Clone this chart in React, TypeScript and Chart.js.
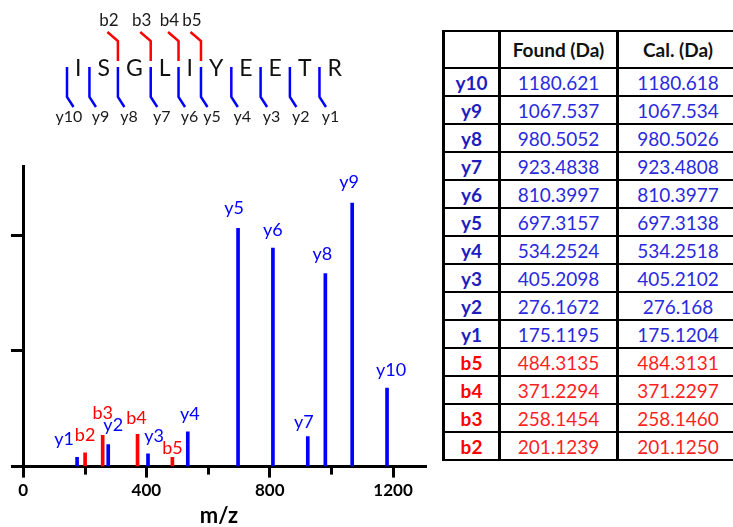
import React, { useEffect, useRef } from "react";
import { Chart, registerables } from "chart.js";

Chart.register(...registerables);

const FONT = "Lato, 'Open Sans', sans-serif";

// ---- Peptide sequence diagram ----
const SEQUENCE = ["I", "S", "G", "L", "I", "Y", "E", "E", "T", "R"];
const SEQ_Y_LABELS = ["y10", "y9", "y8", "y7", "y6", "y5", "y4", "y3", "y2", "y1"];
const SEQ_B_LABELS = ["", "", "b2", "b3", "b4", "b5", "", "", "", ""];

// ---- Spectrum peaks ----
const Y_IONS = ["y1", "y2", "y3", "y4", "y5", "y6", "y7", "y8", "y9", "y10"];
const Y_MZ = [175.1195, 276.1672, 405.2098, 534.2524, 697.3157, 810.3997, 923.4838, 980.5052, 1067.537, 1180.621];
const Y_INT = [8, 19, 11, 30, 206, 189, 26, 167, 228, 68];

const B_IONS = ["b2", "b3", "b4", "b5"];
const B_MZ = [201.1239, 258.1454, 371.2294, 484.3135];
const B_INT = [12, 27, 28, 8];

// ---- Axes ----
const X_TICKS = [0, 200, 400, 600, 800, 1000, 1200];
const X_LABELED = [0, 400, 800, 1200];
const Y_TICKS = [0, 100, 200];
const X_MIN = -36;
const X_MAX = 1307;
const Y_MAX = 260;

// ---- Table ----
const TABLE_IONS = ["y10", "y9", "y8", "y7", "y6", "y5", "y4", "y3", "y2", "y1", "b5", "b4", "b3", "b2"];
const TABLE_FOUND = ["1180.621", "1067.537", "980.5052", "923.4838", "810.3997", "697.3157", "534.2524", "405.2098", "276.1672", "175.1195", "484.3135", "371.2294", "258.1454", "201.1239"];
const TABLE_CAL = ["1180.618", "1067.534", "980.5026", "923.4808", "810.3977", "697.3138", "534.2518", "405.2102", "276.168", "175.1204", "484.3131", "371.2297", "258.1460", "201.1250"];
const TABLE_HEADERS = ["", "Found (Da)", "Cal. (Da)"];

const BLUE = "#0000ff";
const RED = "#ff0000";

// label nudges [dx, dy] to avoid overlaps (style only)
const NUDGE: Record<string, [number, number]> = {
  y1: [-13, 0],
  y2: [5, -2],
  y3: [6, 0],
  y4: [2, 0],
  y5: [-4, -2],
  y7: [-4, 3],
  y8: [-3, -2],
  y9: [-3, -3],
  y10: [4, 0],
  b3: [0, -4],
  b4: [-1, 2],
  b5: [0, 9],
};

const peakLabels = {
  id: "peakLabels",
  afterDatasetsDraw(chart: any) {
    const ctx = chart.ctx;
    ctx.save();
    ctx.font = `18px ${FONT}`;
    ctx.textAlign = "center";
    ctx.textBaseline = "alphabetic";
    chart.data.datasets.forEach((ds: any, di: number) => {
      const meta = chart.getDatasetMeta(di);
      const names = di === 0 ? Y_IONS : B_IONS;
      ctx.fillStyle = ds.backgroundColor;
      meta.data.forEach((el: any, i: number) => {
        const [dx, dy] = NUDGE[names[i]] || [0, 0];
        ctx.fillText(names[i], el.x + dx, el.y - 12 + dy);
      });
    });
    ctx.restore();
  },
};

const minorTicks = {
  id: "minorTicks",
  afterDraw(chart: any) {
    const ctx = chart.ctx;
    const xs = chart.scales.x;
    const bottom = chart.chartArea.bottom;
    ctx.save();
    ctx.strokeStyle = "#000";
    ctx.lineWidth = 3;
    X_TICKS.filter((v) => !X_LABELED.includes(v)).forEach((v) => {
      const px = Math.round(xs.getPixelForValue(v)) + 0.5;
      ctx.beginPath();
      ctx.moveTo(px, bottom);
      ctx.lineTo(px, bottom + 8);
      ctx.stroke();
    });
    ctx.restore();
  },
};

const peptide = {
  id: "peptide",
  afterDraw(chart: any) {
    const ctx = chart.ctx;
    ctx.save();
    ctx.font = `23px ${FONT}`;
    const PAD = 8;
    let x = 67;
    const markers: number[] = [];
    const centers: number[] = [];
    SEQUENCE.forEach((s) => {
      const w = ctx.measureText(s).width;
      markers.push(x);
      centers.push(x + PAD + w / 2);
      x += PAD * 2 + w;
    });
    // letters
    ctx.fillStyle = "#111";
    ctx.textAlign = "center";
    ctx.textBaseline = "alphabetic";
    SEQUENCE.forEach((s, i) => ctx.fillText(s, centers[i], 76));

    ctx.lineWidth = 2.5;
    ctx.lineJoin = "miter";
    // y-ion markers
    ctx.strokeStyle = BLUE;
    markers.forEach((m) => {
      ctx.beginPath();
      ctx.moveTo(m, 67);
      ctx.lineTo(m, 97);
      ctx.lineTo(m + 6.5, 107);
      ctx.stroke();
    });
    // b-ion markers
    ctx.strokeStyle = RED;
    markers.forEach((m, i) => {
      if (!SEQ_B_LABELS[i]) return;
      ctx.beginPath();
      ctx.moveTo(m - 10.5, 32);
      ctx.lineTo(m, 41);
      ctx.lineTo(m, 61);
      ctx.stroke();
    });
    // labels
    ctx.fillStyle = "#1a1a1a";
    ctx.textBaseline = "middle";
    ctx.font = `16px ${FONT}`;
    markers.forEach((m, i) => {
      ctx.fillText(SEQ_Y_LABELS[i], m + (i === 0 ? 2 : 11), 117);
    });
    ctx.font = `17px ${FONT}`;
    markers.forEach((m, i) => {
      if (SEQ_B_LABELS[i]) ctx.fillText(SEQ_B_LABELS[i], m - 9, 21);
    });
    ctx.restore();
  },
};

export default function App() {
  const ref = useRef<HTMLCanvasElement>(null);

  useEffect(() => {
    const canvas = ref.current;
    if (!canvas) return;
    const chart = new Chart(canvas, {
      type: "bar",
      data: {
        datasets: [
          {
            label: "y ions",
            data: Y_MZ.map((x, i) => ({ x, y: Y_INT[i] })),
            backgroundColor: BLUE,
            barThickness: 3,
            grouped: false,
          } as any,
          {
            label: "b ions",
            data: B_MZ.map((x, i) => ({ x, y: B_INT[i] })),
            backgroundColor: RED,
            barThickness: 3,
            grouped: false,
          } as any,
        ],
      },
      options: {
        animation: false,
        responsive: false,
        devicePixelRatio: 1,
        layout: { padding: { left: 12, right: 14, top: 166, bottom: 0 } },
        plugins: { legend: { display: false }, tooltip: { enabled: false } },
        scales: {
          x: {
            type: "linear",
            offset: false,
            min: X_MIN,
            max: X_MAX,
            position: "bottom",
            afterBuildTicks: (s: any) => {
              s.ticks = X_TICKS.map((value) => ({ value }));
            },
            grid: {
              offset: false,
              drawOnChartArea: false,
              drawTicks: true,
              tickLength: 11,
              tickWidth: 3,
              tickColor: (c: any) =>
                c.tick && X_LABELED.includes(c.tick.value) ? "#000" : "rgba(0,0,0,0)",
            },
            border: { display: true, color: "#000", width: 3 },
            ticks: {
              callback: (v: any) => (X_LABELED.includes(Number(v)) ? String(v) : ""),
              color: "#000",
              font: { family: FONT, size: 17, weight: "bold" },
              padding: 3,
              maxRotation: 0,
              autoSkip: false,
            },
            title: {
              display: true,
              text: "m/z",
              color: "#000",
              font: { family: FONT, size: 22, weight: "bold", lineHeight: 1 },
              padding: { top: 1, bottom: 0 },
            },
          },
          y: {
            type: "linear",
            min: 0,
            max: Y_MAX,
            position: { x: 0 } as any,
            afterBuildTicks: (s: any) => {
              s.ticks = Y_TICKS.map((value) => ({ value }));
            },
            grid: {
              drawOnChartArea: false,
              drawTicks: true,
              tickLength: 11,
              tickWidth: 3,
              tickColor: "#000",
            },
            border: { display: true, color: "#000", width: 3 },
            ticks: { display: false },
          },
        },
      } as any,
      plugins: [peakLabels, minorTicks, peptide],
    });
    return () => chart.destroy();
  }, []);

  const cellBase: React.CSSProperties = {
    borderTop: "2px solid #000",
    borderBottom: "2px solid #000",
    borderLeft: "3px solid #000",
    borderRight: "3px solid #000",
    textAlign: "center",
    verticalAlign: "middle",
    padding: 0,
    whiteSpace: "nowrap",
  };

  return (
    <div
      style={{
        position: "absolute",
        left: 0,
        top: 0,
        width: 733,
        height: 527,
        overflow: "hidden",
        background: "#fff",
        fontFamily: FONT,
      }}
    >
      <canvas
        ref={ref}
        width={440}
        height={527}
        style={{ position: "absolute", left: 0, top: 0, width: 440, height: 527 }}
      />
      <table
        style={{
          position: "absolute",
          left: 442,
          top: 30,
          borderCollapse: "collapse",
          tableLayout: "fixed",
          width: 295,
        }}
      >
        <colgroup>
          <col style={{ width: 56 }} />
          <col style={{ width: 118 }} />
          <col style={{ width: 121 }} />
        </colgroup>
        <thead>
          <tr style={{ height: 37 }}>
            {TABLE_HEADERS.map((h, i) => (
              <th
                key={i}
                style={{ ...cellBase, fontSize: 19, fontWeight: 700, color: "#111" }}
              >
                {h}
              </th>
            ))}
          </tr>
        </thead>
        <tbody>
          {TABLE_IONS.map((ion, i) => {
            const isB = ion.startsWith("b");
            const labelColor = isB ? "#ff0000" : "#1e1ebe";
            const valColor = isB ? "#ff1f1f" : "#2a2ade";
            return (
              <tr key={ion} style={{ height: 28 }}>
                <td style={{ ...cellBase, fontSize: 19, fontWeight: 700, color: labelColor }}>{ion}</td>
                <td style={{ ...cellBase, fontSize: 19, color: valColor }}>{TABLE_FOUND[i]}</td>
                <td style={{ ...cellBase, fontSize: 19, color: valColor }}>{TABLE_CAL[i]}</td>
              </tr>
            );
          })}
        </tbody>
      </table>
    </div>
  );
}
